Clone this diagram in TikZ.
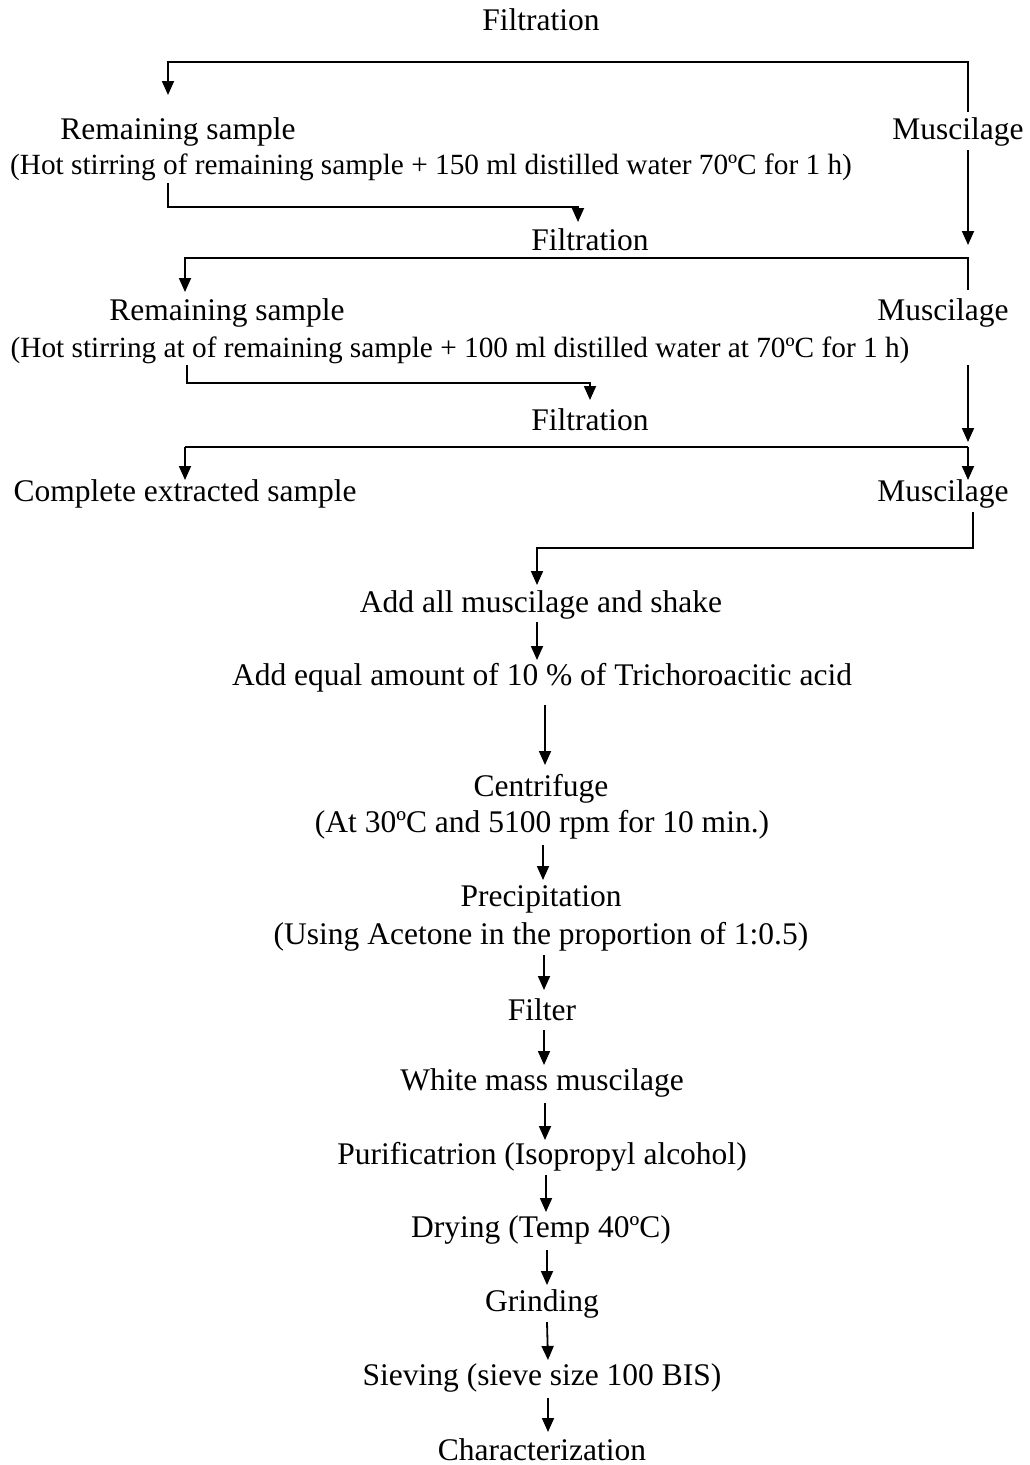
\documentclass[tikz,border=0pt]{standalone}
\usepackage{fontspec}
\setmainfont{Liberation Serif}
\usetikzlibrary{arrows.meta}
\begin{document}
\begin{tikzpicture}[x=1pt,y=-1pt,
  txt/.style={inner sep=0pt,anchor=center,font=\fontsize{31.5}{36}\selectfont},
  txtsm/.style={inner sep=0pt,anchor=center,font=\fontsize{29.3}{34}\selectfont},
  ln/.style={line width=1.8pt},
  arr/.style={line width=1.8pt,-{Triangle[length=14pt,width=12pt]}}]
\useasboundingbox (0,0) rectangle (1030,1465);
% nodes
\node[txt] (f1) at (541,20) {Filtration};
\node[txt] (rs1) at (178,132) {Remaining sample};
\node[txtsm] (hs1) at (431,167) {(Hot stirring of remaining sample + 150 ml distilled water 70ºC for 1 h)};
\node[txt] (m1) at (958,132) {Muscilage};
\node[txt] (f2) at (590,240) {Filtration};
\node[txt] (rs2) at (227,313) {Remaining sample};
\node[txtsm] (hs2) at (460,350) {(Hot stirring at of remaining sample + 100 ml distilled water at 70ºC for 1 h)};
\node[txt] (m2) at (943,313) {Muscilage};
\node[txt] (f3) at (590,420) {Filtration};
\node[txt] (ces) at (185,494) {Complete extracted sample};
\node[txt] (m3) at (943,494) {Muscilage};
\node[txt] (add) at (541,605) {Add all muscilage and shake};
\node[txt] (eq) at (542,678) {Add equal amount of 10 \% of Trichoroacitic acid};
\node[txt] (cen) at (541,789) {Centrifuge};
\node[txt] (cen2) at (542,825) {(At 30ºC and 5100 rpm for 10 min.)};
\node[txt] (pre) at (541,899) {Precipitation};
\node[txt] (pre2) at (541,937) {(Using Acetone in the proportion of 1:0.5)};
\node[txt] (fil) at (542,1010) {Filter};
\node[txt] (wm) at (542,1083) {White mass muscilage};
\node[txt] (pur) at (542,1157) {Purificatrion (Isopropyl alcohol)};
\node[txt] (dry) at (541,1230) {Drying (Temp 40ºC)};
\node[txt] (gri) at (542,1304) {Grinding};
\node[txt] (sie) at (542,1378) {Sieving (sieve size 100 BIS)};
\node[txt] (cha) at (542,1450) {Characterization};
% junction coordinates
\coordinate (a1) at (968,112);
\coordinate (a2) at (168,62);
\coordinate (a3) at (168,95);
\coordinate (b1) at (168,183);
\coordinate (b2) at (578,207);
\coordinate (b3) at (578,222);
\coordinate (c1) at (968,150);
\coordinate (c2) at (968,245);
\coordinate (d1) at (968,290);
\coordinate (d2) at (185,258);
\coordinate (d3) at (185,292);
\coordinate (e1) at (187,365);
\coordinate (e2) at (590,383);
\coordinate (e3) at (590,400);
\coordinate (g1) at (968,365);
\coordinate (g2) at (968,442);
\coordinate (h1) at (968,447);
\coordinate (h2) at (185,447);
\coordinate (h3) at (185,480);
\coordinate (h4) at (968,480);
\coordinate (k1) at (973,512);
\coordinate (k2) at (537,548);
\coordinate (k3) at (537,585);
% connectors
\draw[arr] (a1) |- (a2) -- (a3);
\draw[arr] (b1) |- (b2) -- (b3);
\draw[arr] (c1) -- (c2);
\draw[arr] (d1) |- (d2) -- (d3);
\draw[arr] (e1) |- (e2) -- (e3);
\draw[arr] (g1) -- (g2);
\draw[ln] (h2) -- (h1);
\draw[arr] (h2) -- (h3);
\draw[arr] (h1) -- (h4);
\draw[arr] (k1) |- (k2) -- (k3);
\draw[arr] (537,622) -- (537,660);
\draw[arr] (545,705) -- (545,765);
\draw[arr] (543,845) -- (543,880);
\draw[arr] (544,955) -- (544,990);
\draw[arr] (544,1030) -- (544,1065);
\draw[arr] (545,1103) -- (545,1140);
\draw[arr] (546,1175) -- (546,1212);
\draw[arr] (547,1250) -- (547,1285);
\draw[arr] (547,1322) -- (548,1360);
\draw[arr] (548,1398) -- (548,1432);
\end{tikzpicture}
\end{document}
